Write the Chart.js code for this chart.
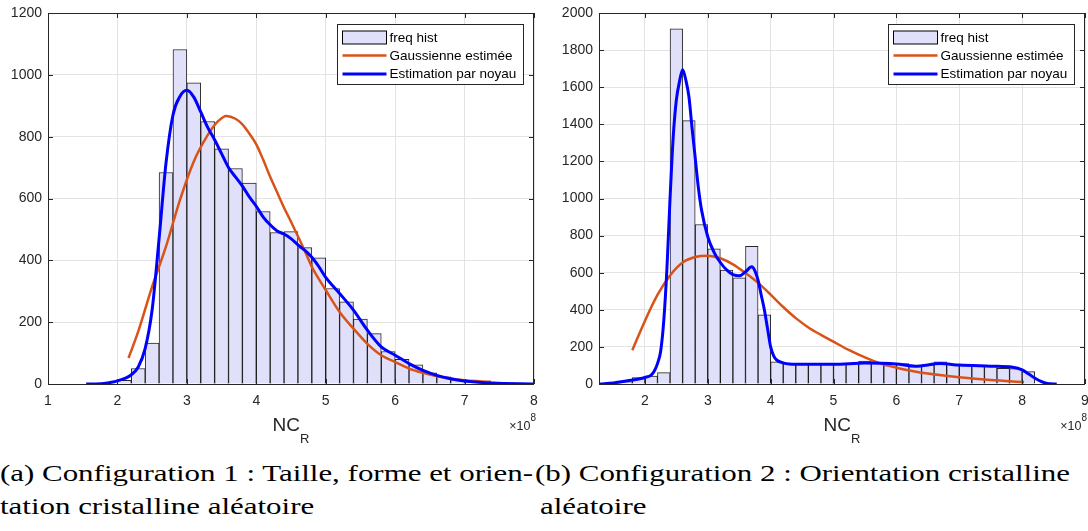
<!DOCTYPE html>
<html>
<head>
<meta charset="utf-8">
<script src="https://cdn.jsdelivr.net/npm/chart.js@4.4.1/dist/chart.umd.min.js"></script>
<style>
    html, body { margin: 0; padding: 0; background: #fff; overflow: hidden; width: 1088px; height: 531px; }
    .panel { position: absolute; top: 0; }
    .caption {
        position: absolute;
        font-family: 'Liberation Serif', 'Times New Roman', serif;
        font-size: 23.5px;
        line-height: 23px;
        color: #000;
        white-space: nowrap;
        transform-origin: 0 0;
    }
</style>
</head>
<body>
<div class="panel" style="left:0"><canvas id="chartA" width="544" height="460"></canvas></div>
<div class="panel" style="left:544px"><canvas id="chartB" width="560" height="460"></canvas></div>

<div class="caption" id="capA1" style="left:0;top:462px">(a) Configuration 1 : Taille, forme et orien-</div>
<div class="caption" id="capA2" style="left:0;top:495px">tation cristalline aléatoire</div>
<div class="caption" id="capB1" style="left:535px;top:462px">(b) Configuration 2 : Orientation cristalline</div>
<div class="caption" id="capB2" style="left:540px;top:495px">aléatoire</div>

<script>
// ---- Configuration 1 (left) ----
const binsA = [2.1, 2.3, 2.5, 2.7, 2.9, 3.1, 3.3, 3.5, 3.7, 3.9, 4.1, 4.3, 4.5, 4.7, 4.9,
               5.1, 5.3, 5.5, 5.7, 5.9, 6.1, 6.3, 6.5, 6.7, 6.9, 7.1, 7.3, 7.5, 7.7];
const countsA = [12, 50, 132, 684, 1082, 974, 849, 761, 697, 650, 558, 490, 493, 441, 408,
                 309, 266, 210, 163, 105, 80, 62, 36, 23, 14, 8, 4, 2, 1];
const gaussAX = [2.16, 2.3, 2.5, 2.7, 2.9, 3.1, 3.3, 3.45, 3.57, 3.7, 3.8, 3.9, 4.0, 4.1, 4.2,
                 4.3, 4.4, 4.5, 4.6, 4.7, 4.8, 4.9, 5.0, 5.2, 5.4, 5.6, 5.8, 6.0, 6.2, 6.4,
                 6.6, 6.8, 7.0, 7.2, 7.38];
const gaussAY = [84, 170, 315, 445, 595, 720, 805, 850, 867, 858, 840, 810, 775, 725, 670,
                 620, 570, 525, 478, 430, 379, 340, 304, 233, 179, 130, 93, 71, 50, 36,
                 25, 17, 12, 9, 7];
const kernelAX = [1.55, 1.8, 2.0, 2.2, 2.3, 2.4, 2.5, 2.6, 2.7, 2.8, 2.9, 3.0, 3.1, 3.2, 3.3,
                  3.4, 3.5, 3.6, 3.7, 3.8, 3.9, 4.0, 4.1, 4.2, 4.3, 4.4, 4.5, 4.6, 4.7, 4.8,
                  4.9, 5.0, 5.2, 5.4, 5.6, 5.8, 6.0, 6.2, 6.4, 6.6, 6.8, 7.0, 7.4, 8.0];
const kernelAY = [0, 2, 10, 30, 55, 115, 240, 470, 715, 870, 930, 950, 928, 880, 830,
                  790, 745, 700, 670, 640, 605, 575, 540, 515, 495, 485, 470, 450, 432, 410,
                  380, 345, 293, 239, 174, 120, 93, 66, 44, 28, 17, 10, 3, 0];
const xTicksA = [1, 2, 3, 4, 5, 6, 7, 8];
const yTicksA = [0, 200, 400, 600, 800, 1000, 1200];

// ---- Configuration 2 (right) ----
const binsB = [1.5, 1.7, 1.9, 2.1, 2.3, 2.5, 2.7, 2.9, 3.1, 3.3, 3.5, 3.7, 3.9, 4.1, 4.3,
               4.5, 4.7, 4.9, 5.1, 5.3, 5.5, 5.7, 5.9, 6.1, 6.3, 6.5, 6.7, 6.9, 7.1, 7.3,
               7.5, 7.7, 7.9, 8.1];
const countsB = [3, 12, 34, 43, 61, 1914, 1420, 860, 729, 614, 572, 742, 373, 119, 110,
                 111, 110, 108, 109, 111, 124, 113, 112, 110, 102, 104, 119, 106, 103, 102,
                 97, 84, 83, 67];
const gaussBX = [1.8, 2.0, 2.2, 2.4, 2.6, 2.8, 3.0, 3.2, 3.4, 3.6, 3.8, 4.0, 4.2, 4.4, 4.6,
                 4.8, 5.0, 5.25, 5.5, 5.75, 6.0, 6.25, 6.5, 7.0, 7.5, 8.03];
const gaussBY = [182, 340, 480, 585, 655, 685, 692, 678, 645, 598, 545, 482, 415, 355, 305,
                 265, 228, 182, 143, 110, 88, 70, 56, 36, 21, 11];
const kernelBX = [1.28, 1.5, 1.7, 1.9, 2.0, 2.1, 2.15, 2.2, 2.25, 2.3, 2.35, 2.4, 2.45, 2.5, 2.55,
                  2.6, 2.65, 2.7, 2.75, 2.8, 2.85, 2.9, 3.0, 3.1, 3.2, 3.3, 3.4, 3.5, 3.6, 3.7,
                  3.75, 3.8, 3.85, 3.9, 3.95, 4.0, 4.05, 4.1, 4.2, 4.3, 4.5, 5.0, 5.5, 6.0, 6.3,
                  6.7, 7.0, 7.5, 7.85, 8.0, 8.1, 8.2, 8.3, 8.4, 8.55];
const kernelBY = [0, 6, 16, 27, 35, 48, 70, 110, 175, 340, 620, 1000, 1330, 1530, 1630,
                  1694, 1640, 1550, 1380, 1220, 1060, 940, 794, 710, 655, 615, 590, 583, 605, 632,
                  610, 560, 480, 400, 300, 200, 150, 128, 114, 108, 106, 106, 113, 108, 96,
                  110, 102, 96, 90, 76, 55, 32, 14, 3, 0];
const xTicksB = [2, 3, 4, 5, 6, 7, 8, 9];
const yTicksB = [0, 200, 400, 600, 800, 1000, 1200, 1400, 1600, 1800, 2000];

const labels = ['freq hist', 'Gaussienne estimée', 'Estimation par noyau'];
const AXIS_COLOR = '#262626';
const BAR_FILL = '#e0e0fb';
const SANS = '"Liberation Sans", Arial, sans-serif';

function toPoints(xs, ys) {
    return xs.map((x, i) => ({ x: x, y: ys[i] }));
}

// box, inward ticks, legend and axis labels (MATLAB look)
const matlabFrame = {
    id: 'matlabFrame',
    afterDraw(chart) {
        const { ctx, chartArea: a, scales: { x, y } } = chart;
        ctx.save();
        ctx.strokeStyle = AXIS_COLOR;
        ctx.lineWidth = 1;
        ctx.beginPath();
        x.ticks.forEach(t => {
            const px = Math.round(x.getPixelForValue(t.value)) + 0.5;
            ctx.moveTo(px, a.bottom); ctx.lineTo(px, a.bottom - 5);
            ctx.moveTo(px, a.top); ctx.lineTo(px, a.top + 5);
        });
        y.ticks.forEach(t => {
            const py = Math.round(y.getPixelForValue(t.value)) + 0.5;
            ctx.moveTo(a.left, py); ctx.lineTo(a.left + 5, py);
            ctx.moveTo(a.right, py); ctx.lineTo(a.right - 5, py);
        });
        ctx.stroke();
        ctx.strokeRect(Math.round(a.left) + 0.5, Math.round(a.top) + 0.5,
                       Math.round(a.right - a.left) - 1, Math.round(a.bottom - a.top));

        // legend
        const boxW = 186, boxH = 60;
        const bx = Math.round(a.right - 11 - boxW) + 0.5;
        const by = Math.round(a.top + 11) + 0.5;
        ctx.fillStyle = '#fff';
        ctx.fillRect(bx, by, boxW, boxH);
        ctx.strokeStyle = AXIS_COLOR;
        ctx.strokeRect(bx, by, boxW, boxH);
        const rows = [13, 31, 49.5];
        chart.data.datasets.forEach((ds, i) => {
            const ry = by + rows[i];
            if (ds.type === 'line') {
                ctx.strokeStyle = ds.borderColor;
                ctx.lineWidth = ds.borderWidth;
                ctx.beginPath();
                ctx.moveTo(bx + 5, ry); ctx.lineTo(bx + 49, ry);
                ctx.stroke();
            } else {
                ctx.fillStyle = BAR_FILL;
                ctx.fillRect(bx + 5, ry - 6.5, 44, 13);
                ctx.strokeStyle = '#000';
                ctx.lineWidth = 1;
                ctx.strokeRect(bx + 5, ry - 6.5, 44, 13);
            }
            ctx.fillStyle = '#000';
            ctx.font = '13.5px ' + SANS;
            ctx.textBaseline = 'middle';
            ctx.textAlign = 'left';
            ctx.fillText(ds.label, bx + 52, ry + 0.5);
        });

        // x axis title NC_R
        ctx.fillStyle = AXIS_COLOR;
        ctx.textBaseline = 'alphabetic';
        ctx.font = '19px ' + SANS;
        const wNC = ctx.measureText('NC').width;
        ctx.font = '13px ' + SANS;
        const wR = ctx.measureText('R').width;
        const cx = (a.left + a.right) / 2;
        const x0 = cx - (wNC + wR) / 2;
        ctx.font = '19px ' + SANS;
        ctx.fillText('NC', x0, 431);
        ctx.font = '13px ' + SANS;
        ctx.fillText('R', x0 + wNC, 443);

        // exponent ×10^8
        ctx.textAlign = 'right';
        ctx.font = '10px ' + SANS;
        const w8 = ctx.measureText('8').width;
        ctx.fillText('8', a.right + 2, 421);
        ctx.font = '12.5px ' + SANS;
        ctx.fillText('\u00d710', a.right + 2 - w8, 430);
        ctx.restore();
    }
};

function makeChart(id, d) {
    const ctx = document.getElementById(id).getContext('2d');
    return new Chart(ctx, {
        type: 'bar',
        data: {
            datasets: [
                {
                    type: 'bar',
                    label: labels[0],
                    data: toPoints(d.bins, d.counts),
                    backgroundColor: BAR_FILL,
                    borderColor: 'rgba(0,0,0,0.85)',
                    borderWidth: { top: 1, left: 1, right: 1, bottom: 0 },
                    borderSkipped: false,
                    barPercentage: 1,
                    categoryPercentage: 1,
                    order: 3,
                },
                {
                    type: 'line',
                    label: labels[1],
                    data: toPoints(d.gaussX, d.gaussY),
                    borderColor: '#d95319',
                    borderWidth: 2.5,
                    pointRadius: 0,
                    cubicInterpolationMode: 'monotone',
                    order: 2,
                },
                {
                    type: 'line',
                    label: labels[2],
                    data: toPoints(d.kernelX, d.kernelY),
                    borderColor: '#0000ff',
                    borderWidth: 3,
                    pointRadius: 0,
                    cubicInterpolationMode: 'monotone',
                    order: 1,
                },
            ],
        },
        options: {
            responsive: false,
            animation: false,
            devicePixelRatio: 1,
            layout: { padding: { left: 0, right: d.padRight, top: 13, bottom: 46 } },
            plugins: { legend: { display: false }, tooltip: { enabled: false } },
            scales: {
                x: {
                    type: 'linear',
                    min: d.xMin,
                    max: d.xMax,
                    offset: false,
                    grid: { color: '#e3e3e3', drawTicks: false, offset: false },
                    border: { display: false },
                    ticks: {
                        color: AXIS_COLOR,
                        padding: 9,
                        maxRotation: 0,
                        font: { family: SANS, size: 14 },
                        callback: v => String(v),
                    },
                    afterBuildTicks: s => { s.ticks = d.xTicks.map(v => ({ value: v })); },
                    afterFit: s => { s.height = 30; s.paddingLeft = 0; s.paddingRight = 0; },
                },
                y: {
                    min: 0,
                    max: d.yMax,
                    grid: { color: '#e3e3e3', drawTicks: false },
                    border: { display: false },
                    ticks: {
                        color: AXIS_COLOR,
                        padding: 6,
                        font: { family: SANS, size: 14 },
                        callback: v => String(v),
                    },
                    afterBuildTicks: s => { s.ticks = d.yTicks.map(v => ({ value: v })); },
                    afterFit: s => { s.width = d.leftW; s.paddingTop = 0; s.paddingBottom = 0; },
                },
            },
        },
        plugins: [matlabFrame],
    });
}

makeChart('chartA', {
    bins: binsA, counts: countsA, gaussX: gaussAX, gaussY: gaussAY,
    kernelX: kernelAX, kernelY: kernelAY, xMin: 1, xMax: 8, xTicks: xTicksA,
    yMax: 1200, yTicks: yTicksA, leftW: 48, padRight: 10,
});
makeChart('chartB', {
    bins: binsB, counts: countsB, gaussX: gaussBX, gaussY: gaussBY,
    kernelX: kernelBX, kernelY: kernelBY, xMin: 1.27, xMax: 9, xTicks: xTicksB,
    yMax: 2000, yTicks: yTicksB, leftW: 55, padRight: 19,
});

// stretch captions so they span like the LaTeX original
const capA1 = document.getElementById('capA1');
const scaleX = 533 / capA1.getBoundingClientRect().width;
['capA1', 'capA2', 'capB1', 'capB2'].forEach(id => {
    document.getElementById(id).style.transform = `scaleX(${scaleX})`;
});
</script>
</body>
</html>
